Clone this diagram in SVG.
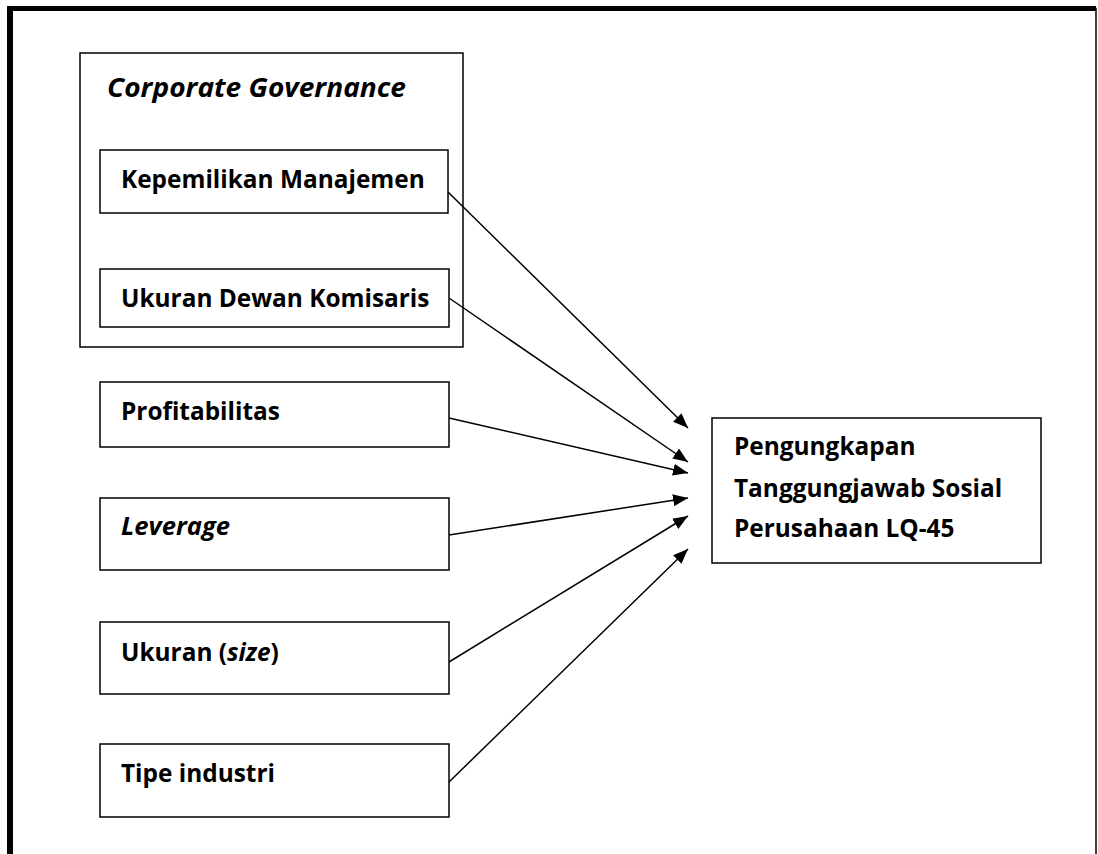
<svg xmlns="http://www.w3.org/2000/svg" width="1098" height="854" viewBox="0 0 1098 854">
<defs>
<style>
.box{fill:#fff;stroke:#000;stroke-width:1.5}
.t{font-family:"Open Sans","Noto Sans","Liberation Sans",sans-serif;font-weight:bold;font-size:24.4px;fill:#000}
.i{font-style:italic}
.c{stroke:#000;stroke-width:1.5;fill:none;marker-end:url(#ah)}
</style>
<marker id="ah" markerWidth="16" markerHeight="12" refX="15" refY="6" orient="auto" markerUnits="userSpaceOnUse">
<path d="M0,0 L15,6 L0,12 Z" fill="#000"/>
</marker>
</defs>
<rect width="1098" height="854" fill="#fff"/>
<g id="frame">
<path d="M10,860 L10,8.5 L1096,8.5 L1096,860" fill="none" stroke="#000" stroke-width="1.5"/>
<line x1="10" y1="8.5" x2="10" y2="860" stroke="#000" stroke-width="6"/>
<line x1="7" y1="8.5" x2="1096" y2="8.5" stroke="#000" stroke-width="5"/>
</g>
<g id="corporate-governance">
<rect class="box" x="80" y="53" width="383" height="294"/>
<text class="t i" x="107" y="97" style="font-size:26px" textLength="299" lengthAdjust="spacingAndGlyphs">Corporate Governance</text>
</g>
<g id="kepemilikan">
<rect class="box" x="100" y="150" width="348" height="63"/>
<text class="t" x="121" y="188">Kepemilikan Manajemen</text>
</g>
<g id="dewan">
<rect class="box" x="100" y="269" width="349" height="58"/>
<text class="t" x="121" y="307">Ukuran Dewan Komisaris</text>
</g>
<g id="profitabilitas">
<rect class="box" x="100" y="382" width="349" height="65"/>
<text class="t" x="121" y="420">Profitabilitas</text>
</g>
<g id="leverage">
<rect class="box" x="100" y="498" width="349" height="72"/>
<text class="t i" x="121" y="535" textLength="109" lengthAdjust="spacingAndGlyphs">Leverage</text>
</g>
<g id="size">
<rect class="box" x="100" y="622" width="349" height="72"/>
<text class="t" x="121" y="661">Ukuran (<tspan class="i">size</tspan>)</text>
</g>
<g id="tipe">
<rect class="box" x="100" y="744" width="349" height="73"/>
<text class="t" x="121" y="782">Tipe industri</text>
</g>
<g id="pengungkapan">
<rect class="box" x="712" y="418" width="329" height="145"/>
<text class="t" x="734" y="455">Pengungkapan</text>
<text class="t" x="734" y="497">Tanggungjawab Sosial</text>
<text class="t" x="734" y="537">Perusahaan LQ-45</text>
</g>
<g id="connectors">
<line class="c" x1="448" y1="192" x2="688" y2="428"/>
<line class="c" x1="449" y1="298" x2="688" y2="462"/>
<line class="c" x1="449" y1="418" x2="688" y2="473"/>
<line class="c" x1="449" y1="535" x2="688" y2="498"/>
<line class="c" x1="449" y1="662" x2="688" y2="516"/>
<line class="c" x1="449" y1="782" x2="688" y2="549"/>
</g>
</svg>
